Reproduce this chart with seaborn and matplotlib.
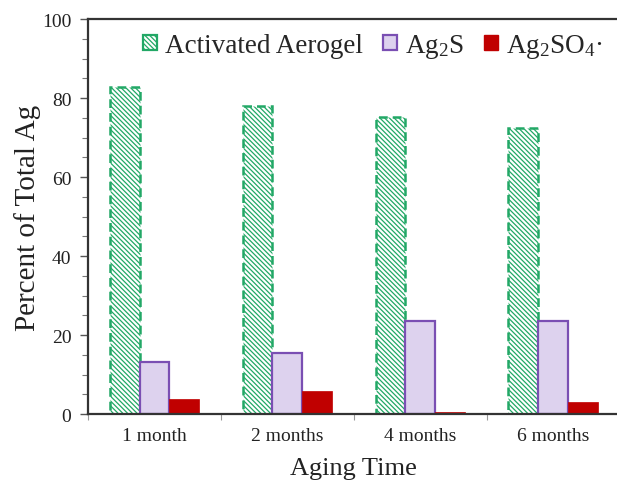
import matplotlib
matplotlib.use("Agg")
import matplotlib.pyplot as plt
from matplotlib.patches import Patch
from matplotlib.ticker import MultipleLocator, FixedLocator
import seaborn as sns
import pandas as pd

categories = ["1 month", "2 months", "4 months", "6 months"]
series_names = ["Activated Aerogel", "Ag$_2$S", "Ag$_2$SO$_4$\u00b7"]
aerogel = [82.8, 77.9, 75.2, 72.5]
ag2s = [13.2, 15.4, 23.5, 23.6]
ag2so4 = [3.8, 5.8, 0.5, 3.1]
y_ticks = [0, 20, 40, 60, 80, 100]

rows = []
for name, vals in zip(series_names, [aerogel, ag2s, ag2so4]):
    for c, v in zip(categories, vals):
        rows.append({"Aging Time": c, "Series": name, "Value": v})
df = pd.DataFrame(rows)

sns.set_theme(style="white")
plt.rcParams["font.family"] = ["Liberation Serif", "DejaVu Serif"]
plt.rcParams["mathtext.fontset"] = "custom"
plt.rcParams["mathtext.rm"] = "Liberation Serif"
plt.rcParams["mathtext.it"] = "Liberation Serif:italic"
plt.rcParams["hatch.linewidth"] = 0.9

fig = plt.figure(figsize=(6.17, 4.81), dpi=100)
ax = fig.add_axes([0.1426, 0.137, 0.862, 0.821])

sns.barplot(data=df, x="Aging Time", y="Value", hue="Series", order=categories,
            hue_order=series_names, width=0.675, gap=0, ax=ax, legend=False,
            errorbar=None, saturation=1)

green = "#22a866"
hatch_green = "#5cc08e"
purple_edge = "#7a4fb3"
purple_face = "#ddd2ee"
red = "#c00000"
HATCH = "\\" * 7


def style_green(p):
    p.set_facecolor("white")
    p.set_edgecolor(green)
    p.set_hatch(HATCH)
    if hasattr(p, "set_hatchcolor"):
        p.set_hatchcolor(hatch_green)
    p.set_linestyle((0, (3.5, 2)))
    p.set_linewidth(1.8)


for p in ax.containers[0]:
    style_green(p)
for p in ax.containers[1]:
    p.set_facecolor(purple_face)
    p.set_edgecolor(purple_edge)
    p.set_linewidth(1.6)
for p in ax.containers[2]:
    p.set_facecolor(red)
    p.set_edgecolor(red)
    p.set_linewidth(0.5)

ax.set_xlim(-0.5, 3.5)
ax.set_ylim(0, 100)
ax.yaxis.set_major_locator(FixedLocator(y_ticks))
ax.yaxis.set_minor_locator(MultipleLocator(5))
ax.xaxis.set_minor_locator(FixedLocator([-0.5, 0.5, 1.5, 2.5, 3.5]))
ax.tick_params(axis="y", which="major", direction="out", length=6, width=1, colors="#555555",
               labelsize=14, labelcolor="#222222", left=True, pad=6)
ax.tick_params(axis="y", which="minor", direction="out", length=4, width=0.8, colors="#777777", left=True)
ax.tick_params(axis="x", which="major", length=0, labelsize=14, labelcolor="#222222", pad=9)
ax.tick_params(axis="x", which="minor", direction="out", length=4, width=0.8, colors="#999999", bottom=True)

for s in ["left", "bottom", "top"]:
    ax.spines[s].set_color("#333333")
    ax.spines[s].set_linewidth(1.6)
ax.spines["right"].set_visible(False)

ax.set_xlabel("Aging Time", fontsize=19, color="#222222", labelpad=10)
ax.set_ylabel("Percent of Total Ag", fontsize=21, color="#222222", labelpad=1)

h0 = Patch(facecolor="white", edgecolor=green, hatch=HATCH, linewidth=1.6)
if hasattr(h0, "set_hatchcolor"):
    h0.set_hatchcolor(hatch_green)
handles = [
    h0,
    Patch(facecolor=purple_face, edgecolor=purple_edge, linewidth=1.6),
    Patch(facecolor=red, edgecolor=red),
]
ax.legend(handles, series_names, loc="upper right", bbox_to_anchor=(1.003, 1.015), ncol=3,
          frameon=False, fontsize=19.5, handlelength=0.5, handleheight=0.5,
          handletextpad=0.3, columnspacing=0.75, borderaxespad=0.3)

fig.savefig("out.png", dpi=100)
